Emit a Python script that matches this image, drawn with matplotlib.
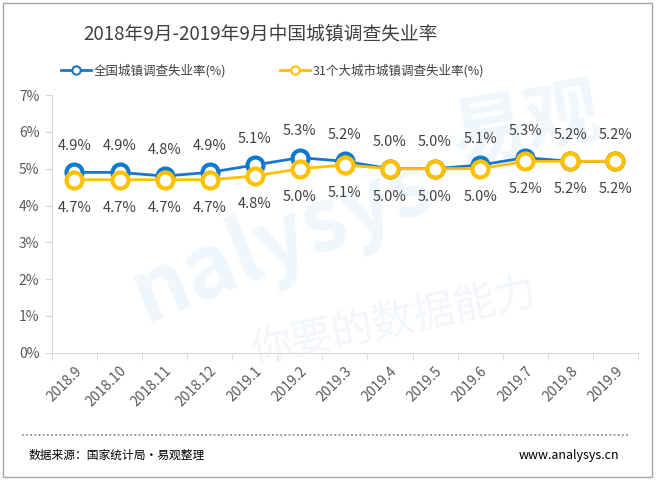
import matplotlib
matplotlib.use('Agg')
import matplotlib.pyplot as plt
from matplotlib.patches import Rectangle
from matplotlib.lines import Line2D

plt.rcParams['font.family'] = ['Noto Sans CJK SC', 'DejaVu Sans']

# datos
meses = ['2018.9', '2018.10', '2018.11', '2018.12', '2019.1', '2019.2', '2019.3',
         '2019.4', '2019.5', '2019.6', '2019.7', '2019.8', '2019.9']
nacional = [4.9, 4.9, 4.8, 4.9, 5.1, 5.3, 5.2, 5.0, 5.0, 5.1, 5.3, 5.2, 5.2]
ciudades31 = [4.7, 4.7, 4.7, 4.7, 4.8, 5.0, 5.1, 5.0, 5.0, 5.0, 5.2, 5.2, 5.2]
y_ticks = [0, 1, 2, 3, 4, 5, 6, 7]

azul = '#1B75CF'
amarillo = '#FFC000'
gris_txt = '#404040'

fig = plt.figure(figsize=(6.57, 4.8), dpi=100)

# marca de agua (detrás de todo)
fig.text(0.43, 0.50, 'nalysys', fontsize=62, color='#EFF7FC', rotation=22,
         ha='center', va='center', zorder=-5, fontweight='bold')
fig.text(0.80, 0.74, '易观', fontsize=54, color='#EFF7FC', rotation=10,
         ha='center', va='center', zorder=-5, fontweight='bold')
fig.text(0.60, 0.33, '你要的数据能力', fontsize=30, color='#F2F6FB', rotation=12,
         ha='center', va='center', zorder=-5)

ax = fig.add_axes([0.079, 0.265, 0.892, 0.537])
ax.patch.set_alpha(0)

x = list(range(len(meses)))
ax.plot(x, nacional, color=azul, lw=2, marker='o', ms=11.5, mfc='white',
        mec='#0E7ACF', mew=3, zorder=3, label='全国城镇调查失业率(%)')
ax.plot(x, ciudades31, color=amarillo, lw=2, marker='o', ms=11.5, mfc='white',
        mec=amarillo, mew=3, zorder=4, label='31个大城市城镇调查失业率(%)')

for i in x:
    ax.annotate(f'{nacional[i]:.1f}%', (i, nacional[i]), xytext=(0, 14),
                textcoords='offset points', ha='center', va='bottom',
                fontsize=10.5, color=gris_txt)
    ax.annotate(f'{ciudades31[i]:.1f}%', (i, ciudades31[i]), xytext=(0, -15),
                textcoords='offset points', ha='center', va='top',
                fontsize=10.5, color=gris_txt)

ax.set_xlim(-0.5, len(meses) - 0.5)
ax.set_ylim(0, 7)
ax.set_yticks(y_ticks)
ax.set_yticklabels([f'{v}%' for v in y_ticks], fontsize=10, color='#595959')
ax.set_xticks(x)
ax.set_xticklabels(meses, rotation=45, ha='right', rotation_mode='anchor',
                   fontsize=10, color='#595959')
ax.tick_params(axis='x', length=0, pad=8)
ax.set_xticks([i + 0.5 for i in range(-1, len(meses))], minor=True)
ax.tick_params(axis='x', which='minor', length=5, color='#D9D9D9')
ax.tick_params(axis='y', length=5, color='#D9D9D9', pad=4)
for s in ['top', 'right']:
    ax.spines[s].set_visible(False)
ax.spines['left'].set_color('#D9D9D9')
ax.spines['bottom'].set_color('#D9D9D9')

fig.text(0.397, 0.930, '2018年9月-2019年9月中国城镇调查失业率', fontsize=13.5,
         color=gris_txt, ha='center', va='center')

handles = [Line2D([], [], color=azul, lw=2, marker='o', ms=6, mfc='white', mec=azul, mew=1.5),
           Line2D([], [], color=amarillo, lw=2, marker='o', ms=6, mfc='white', mec=amarillo, mew=1.5)]
fig.legend(handles, ['全国城镇调查失业率(%)', '31个大城市城镇调查失业率(%)'],
           loc='center', bbox_to_anchor=(0.415, 0.853), ncol=2, frameon=False,
           fontsize=9, handlelength=2.4, columnspacing=4.3, handletextpad=0.2,
           labelcolor=gris_txt)

# pie de página
fig.add_artist(Line2D([0.034, 0.956], [0.093, 0.093], color='#7F7F7F', lw=1.2,
                      linestyle=(0, (1, 1.5)), transform=fig.transFigure))
fig.text(0.043, 0.052, '数据来源：国家统计局·易观整理', fontsize=8.5, color='black', va='center')
fig.text(0.942, 0.052, 'www.analysys.cn', fontsize=9, color='black', va='center', ha='right')

fig.add_artist(Rectangle((0.005, 0.006), 0.988, 0.988, transform=fig.transFigure,
                         fill=False, ec='#A6A6A6', lw=1))

fig.savefig('out.png', dpi=100)
